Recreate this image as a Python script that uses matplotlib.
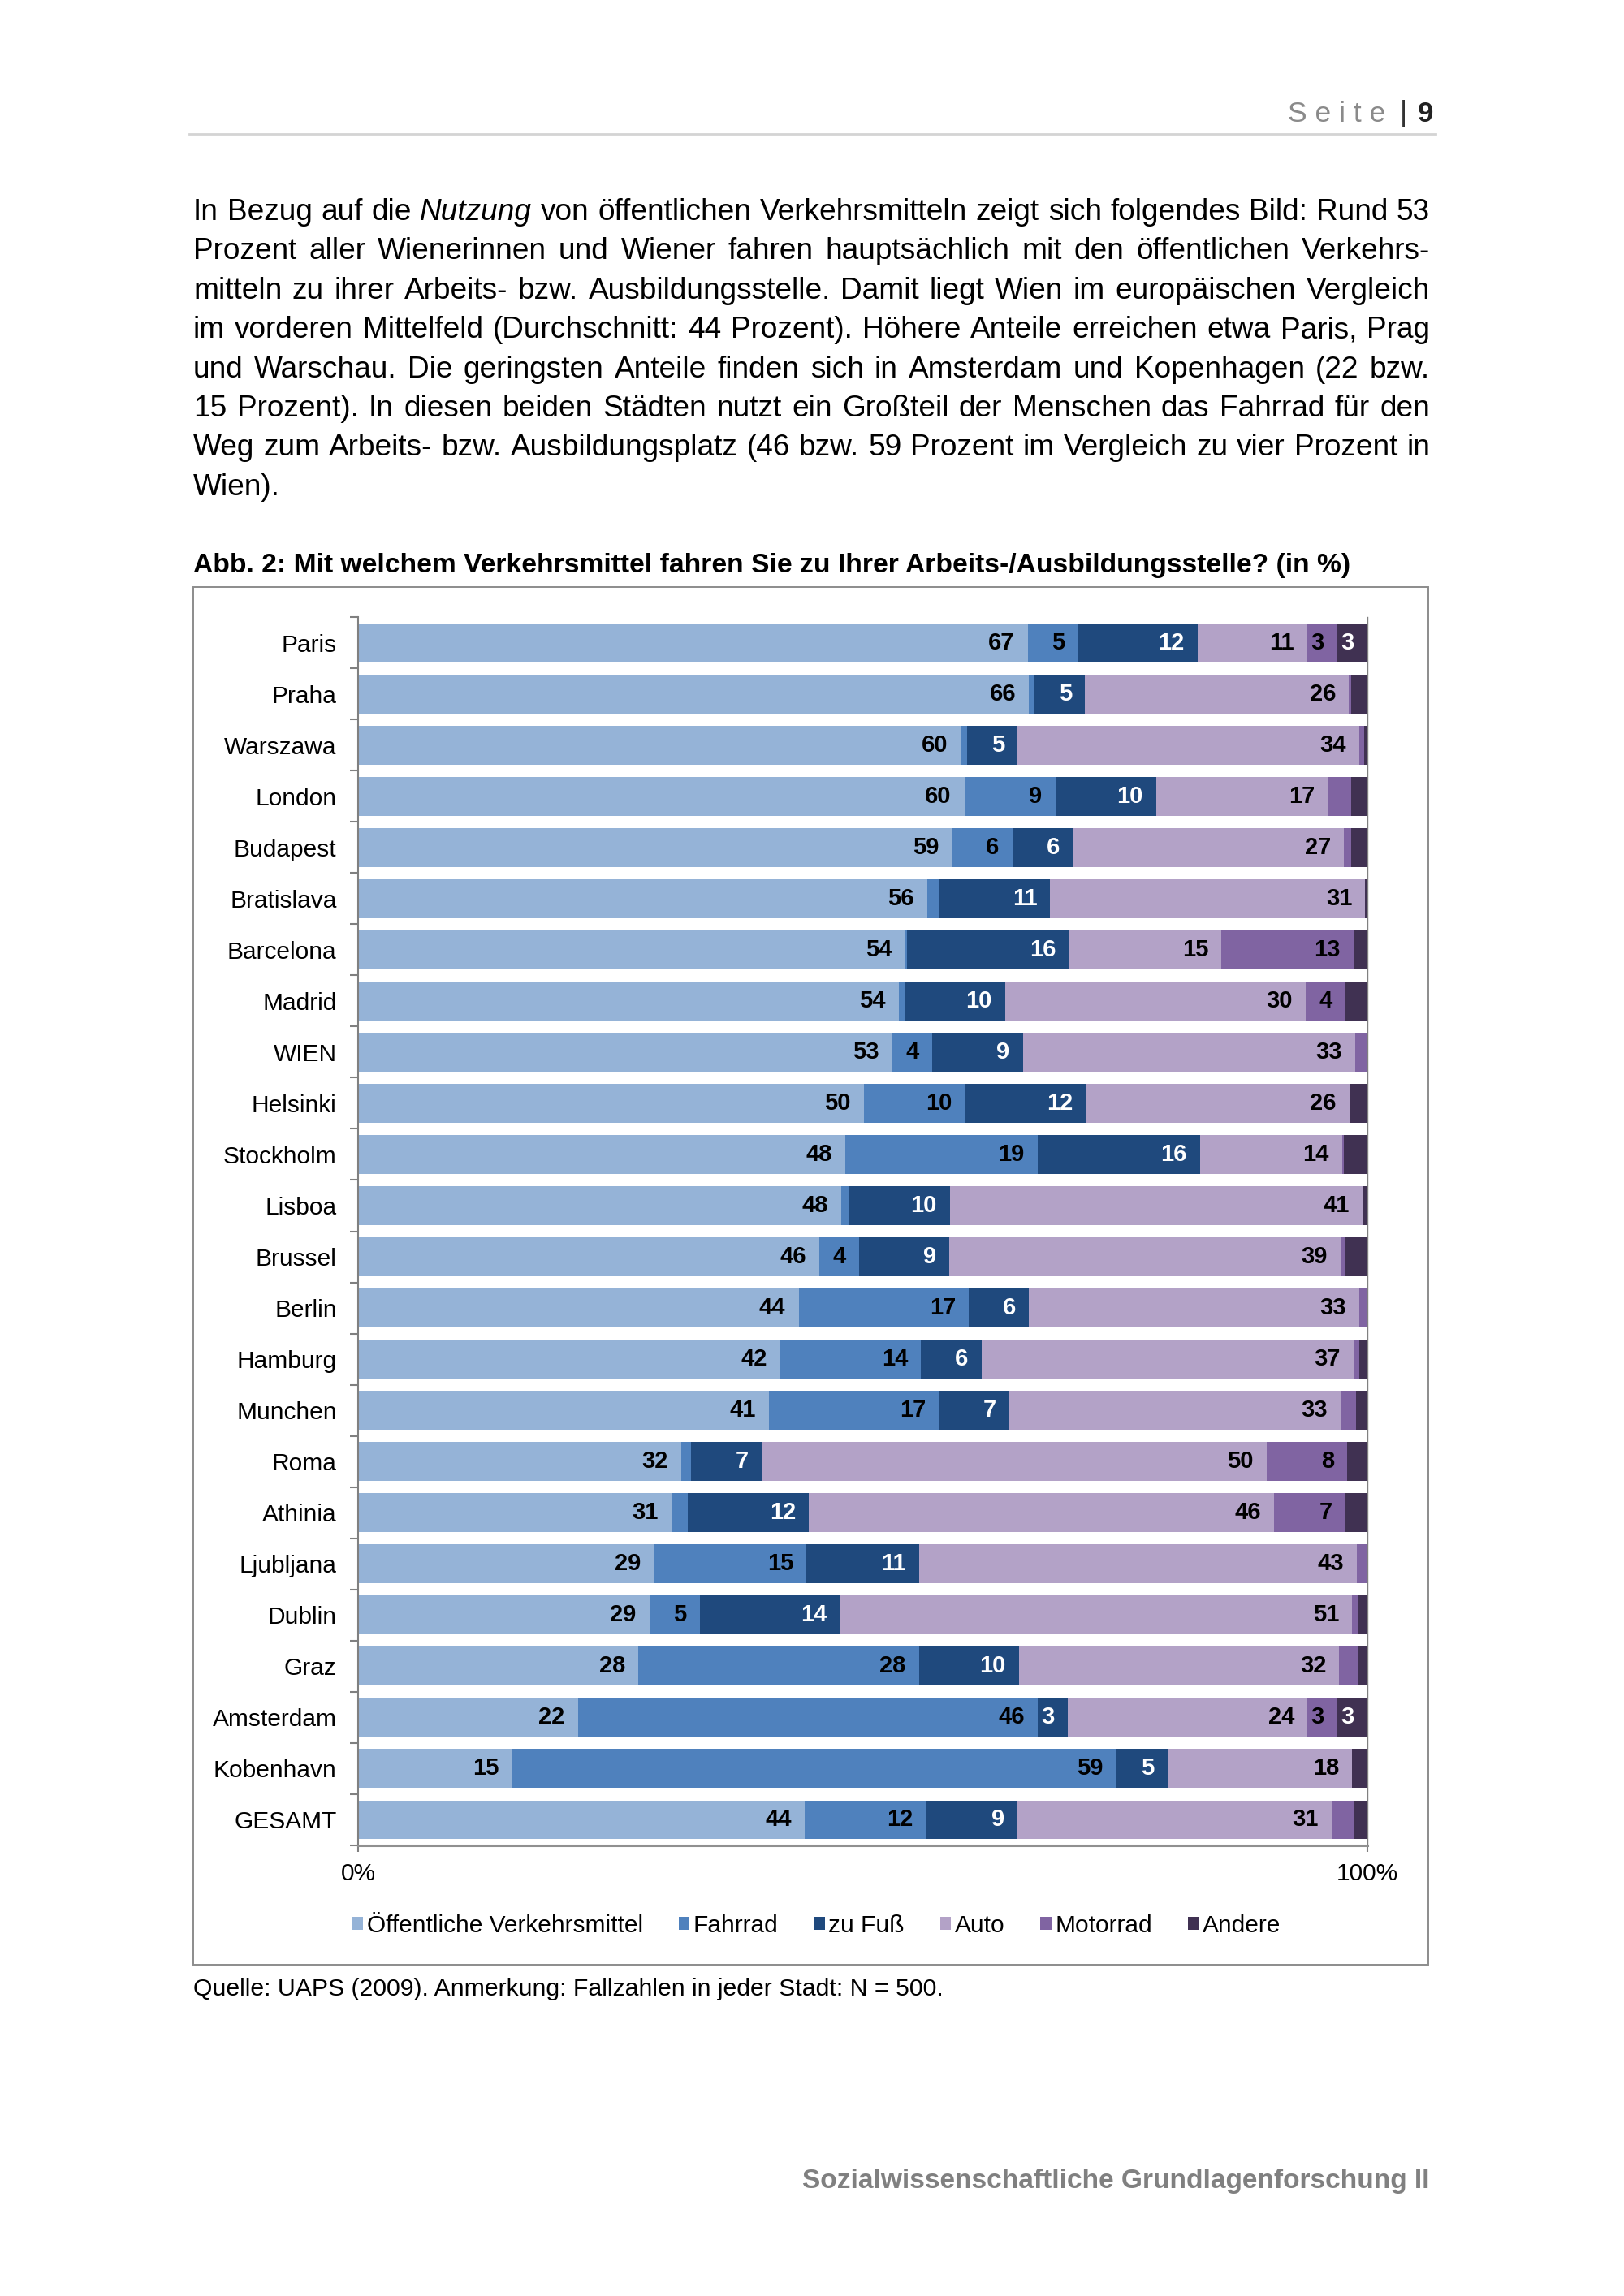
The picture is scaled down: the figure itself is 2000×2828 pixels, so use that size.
import numpy as np
import matplotlib
matplotlib.use("Agg")
from matplotlib import pyplot as plt
import matplotlib.patches as patches
from matplotlib.transforms import IdentityTransform

plt.rcParams["font.family"] = ["Liberation Sans", "DejaVu Sans"]

W, H = 2000, 2828

cities = [
    "Paris", "Praha", "Warszawa", "London", "Budapest", "Bratislava",
    "Barcelona", "Madrid", "WIEN", "Helsinki", "Stockholm", "Lisboa",
    "Brussel", "Berlin", "Hamburg", "Munchen", "Roma", "Athinia",
    "Ljubljana", "Dublin", "Graz", "Amsterdam", "Kobenhavn", "GESAMT",
]
# shares in %, labelled values as printed, tiny segments estimated
oev = [67, 66, 60, 60, 59, 56, 54, 54, 53, 50, 48, 48, 46, 44, 42, 41, 32, 31, 29, 29, 28, 22, 15, 44]
fahrrad = [5, 0.5, 0.6, 9, 6, 1.1, 0.2, 0.6, 4, 10, 19, 0.8, 4, 17, 14, 17, 1, 1.6, 15, 5, 28, 46, 59, 12]
zu_fuss = [12, 5, 5, 10, 6, 11, 16, 10, 9, 12, 16, 10, 9, 6, 6, 7, 7, 12, 11, 14, 10, 3, 5, 9]
auto = [11, 26, 34, 17, 27, 31, 15, 30, 33, 26, 14, 41, 39, 33, 37, 33, 50, 46, 43, 51, 32, 24, 18, 31]
motorrad = [3, 0.2, 0.5, 2.3, 0.7, 0, 13, 4, 1.2, 0, 0.2, 0, 0.5, 0.8, 0.6, 1.6, 8, 7, 1, 0.5, 1.8, 3, 0, 2.1]
andere = [3, 1.6, 0.3, 1.6, 1.6, 0.2, 1.4, 2.2, 0, 1.8, 2.3, 0.5, 2.2, 0, 0.8, 1.1, 2, 2.2, 0, 1, 1, 3, 1.5, 1.4]

series_names = ["Öffentliche Verkehrsmittel", "Fahrrad", "zu Fuß", "Auto", "Motorrad", "Andere"]
series_colors = ["#95B3D7", "#4F81BD", "#1F497D", "#B3A2C7", "#8064A2", "#403152"]
label_colors = ["black", "black", "white", "black", "black", "white"]

paragraph = [
    "In Bezug auf die *Nutzung* von öffentlichen Verkehrsmitteln zeigt sich folgendes Bild: Rund 53",
    "Prozent aller Wienerinnen und Wiener fahren hauptsächlich mit den öffentlichen Verkehrs-",
    "mitteln zu ihrer Arbeits- bzw. Ausbildungsstelle. Damit liegt Wien im europäischen Vergleich",
    "im vorderen Mittelfeld (Durchschnitt: 44 Prozent). Höhere Anteile erreichen etwa Paris, Prag",
    "und Warschau. Die geringsten Anteile finden sich in Amsterdam und Kopenhagen (22 bzw.",
    "15 Prozent). In diesen beiden Städten nutzt ein Großteil der Menschen das Fahrrad für den",
    "Weg zum Arbeits- bzw. Ausbildungsplatz (46 bzw. 59 Prozent im Vergleich zu vier Prozent in",
    "Wien).",
]
caption = "Abb. 2: Mit welchem Verkehrsmittel fahren Sie zu Ihrer Arbeits-/Ausbildungsstelle? (in %)"
source = "Quelle: UAPS (2009). Anmerkung: Fallzahlen in jeder Stadt: N = 500."
footer = "Sozialwissenschaftliche Grundlagenforschung II"

fig = plt.figure(figsize=(W / 100, H / 100), dpi=100)
renderer = fig.canvas.get_renderer()
px = IdentityTransform()


def put(x, y, s, **kw):
    # pixel coords measured from top-left of the page
    return fig.text(x, H - y, s, transform=px, **kw)


def width_of(t):
    return t.get_window_extent(renderer).width


def fit_size(s, target, base=20, **kw):
    t = put(0, 0, s, fontsize=base, **kw)
    w = width_of(t)
    t.remove()
    return base * target / w


# ---- page header
put(1706, 140, "S e i t e", fontsize=25.5, color="#8a8a8a", ha="right", va="center")
put(1728, 140, "|", fontsize=25, color="#333333", ha="center", va="center")
put(1765, 140, "9", fontsize=25, fontweight="bold", color="#222222", ha="right", va="center")
fig.add_artist(plt.Line2D([233, 1768], [H - 165, H - 165], transform=px, color="#d4d4d4", lw=2))

# ---- justified paragraph
x0, x1 = 238, 1761
par_words = [[(w.strip("*"), "italic" if w.startswith("*") else "normal") for w in line.split(" ")]
             for line in paragraph]
par_size = 30
widest = 0
for words in par_words[:-1]:
    ts = [put(0, 0, w, fontsize=par_size, style=st) for w, st in words]
    widest = max(widest, sum(width_of(t) for t in ts) + 0.28 * par_size * 1.389 * (len(ts) - 1))
    for t in ts:
        t.remove()
par_size = par_size * (x1 - x0) * 0.995 / widest

for i, words in enumerate(par_words):
    y = 271 + i * 48.4
    ts = [put(0, y, w, fontsize=par_size, style=st, va="baseline", ha="left") for w, st in words]
    ws = [width_of(t) for t in ts]
    if i < len(par_words) - 1 and len(ts) > 1:
        gap = (x1 - x0 - sum(ws)) / (len(ts) - 1)
    else:
        gap = 0.28 * par_size * 1.389
    x = x0
    for t, w in zip(ts, ws):
        t.set_x(x)
        x += w + gap

# ---- caption
put(238, 696, caption, fontsize=fit_size(caption, 1423, fontweight="bold"),
    fontweight="bold", ha="left", va="center")

# ---- chart frame
fig.add_artist(patches.Rectangle((238, H - 2420), 1759 - 238, 2420 - 723, transform=px,
                                 fill=False, edgecolor="#8c8c8c", lw=1.4))

ax = fig.add_axes([441 / W, 1 - 2273 / H, (1684 - 441) / W, (2273 - 760) / H])
data = np.array([oev, fahrrad, zu_fuss, auto, motorrad, andere], dtype=float)
shares = data / data.sum(axis=0) * 100
y = np.arange(len(cities))
left = np.zeros(len(cities))
handles = []
for k in range(len(series_names)):
    b = ax.barh(y, shares[k], left=left, height=0.76, color=series_colors[k],
                linewidth=0, label=series_names[k])
    handles.append(b)
    for j in range(len(cities)):
        v = data[k, j]
        if v >= 3:
            s = str(int(round(v)))
            start, end = left[j], left[j] + shares[k, j]
            w = 1.2 * len(s)
            if end - 1.3 - w >= start + 0.3:
                ax.text(end - 1.3, j, s, ha="right", va="center", fontsize=21,
                        fontweight="bold", color=label_colors[k])
            else:
                ax.text((start + end) / 2, j, s, ha="center", va="center", fontsize=21,
                        fontweight="bold", color=label_colors[k])
    left += shares[k]

ax.set_xlim(0, 100)
ax.set_ylim(len(cities) - 0.5, -0.5)
ax.set_yticks(y)
ax.set_yticklabels(cities, fontsize=21.5)
ax.set_yticks(np.arange(-0.5, len(cities), 1), minor=True)
ax.tick_params(axis="y", which="major", length=0, pad=19)
ax.tick_params(axis="y", which="minor", length=7, width=1.5, color="#808080")
ax.set_xticks([0, 100])
ax.set_xticklabels(["0%", "100%"], fontsize=21.5)
ax.tick_params(axis="x", length=6, width=1.5, color="#808080", pad=9)
ax.spines["top"].set_visible(False)
ax.spines["left"].set_color("#808080")
ax.spines["left"].set_linewidth(1.5)
ax.spines["bottom"].set_color("#909090")
ax.spines["bottom"].set_linewidth(2.2)
ax.spines["right"].set_color("#808080")
ax.spines["right"].set_linewidth(1.0)

fig.legend(handles=handles, loc="center left", bbox_to_anchor=(434 / W, 1 - 2372 / H),
           ncol=6, frameon=False, fontsize=21.5, handlelength=0.45, handleheight=0.45,
           handletextpad=0.15, columnspacing=1.47, borderaxespad=0, borderpad=0)

# ---- source and footer
put(238, 2450, source, fontsize=fit_size(source, 925), ha="left", va="center")
put(1760, 2687, footer, fontsize=fit_size(footer, 772, fontweight="bold"),
    fontweight="bold", color="#808080", ha="right", va="center")

fig.savefig("out.png", dpi=100)
